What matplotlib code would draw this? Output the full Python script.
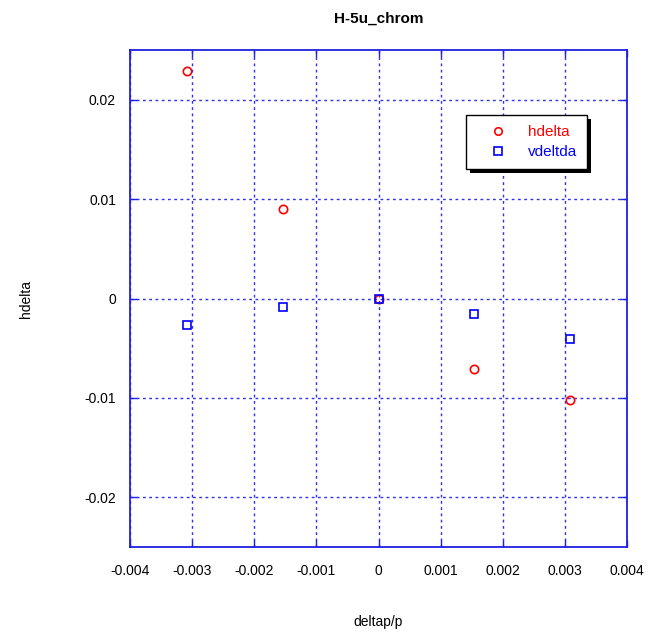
import matplotlib
matplotlib.use("Agg")
import matplotlib.pyplot as plt
import matplotlib.patheffects as pe

plt.rcParams['font.family'] = ['Liberation Sans', 'DejaVu Sans']

deltap = [-0.00308, -0.00154, 0.0, 0.00154, 0.00308]
hdelta = [0.0229, 0.00905, 0.0, -0.00714, -0.01025]
vdeltda = [-0.00271, -0.0009, 0.0, -0.0016, -0.0041]
xticks = [-0.004, -0.003, -0.002, -0.001, 0, 0.001, 0.002, 0.003, 0.004]
xticklabels = ['-0.004', '-0.003', '-0.002', '-0.001', '0', '0.001', '0.002', '0.003', '0.004']
yticks = [-0.02, -0.01, 0, 0.01, 0.02]
yticklabels = ['-0.02', '-0.01', '0', '0.01', '0.02']

fig = plt.figure(figsize=(6.48, 6.36), dpi=100)
ax = fig.add_axes([130/648, 89/636, 497/648, 497/636])
blue = '#2020e0'

ax.plot(deltap, hdelta, 'o', ms=6, mfc='none', mec='red', mew=1.2, label='hdelta', zorder=3)
ax.plot(deltap, vdeltda, 's', ms=6, mfc='none', mec='blue', mew=1.2, label='vdeltda', zorder=3)

ax.set_xlim(-0.004, 0.004)
ax.set_ylim(-0.025, 0.025)
ax.set_xticks(xticks)
ax.set_xticklabels(xticklabels)
ax.set_yticks(yticks)
ax.set_yticklabels(yticklabels)
ax.grid(True, color='#3030f0', linestyle=(0, (2, 2.5)), linewidth=1.0)
for s in ax.spines.values():
    s.set_color(blue)
    s.set_linewidth(1.3)
ax.tick_params(direction='in', length=5, color=blue, width=1.0, labelsize=10, pad=12,
               top=True, right=True)
ax.tick_params(axis='y', pad=10)

ax.set_title('H-5u_chrom', fontsize=11, fontweight='bold', pad=20)
ax.set_xlabel('deltap/p', fontsize=10, labelpad=27)
ax.set_ylabel('hdelta', fontsize=10, labelpad=37)

leg = ax.legend(loc='upper left', bbox_to_anchor=((466-130)/497, (547-115)/497), fontsize=11,
                frameon=True, fancybox=False, shadow=False, handletextpad=0.5,
                borderpad=0.65, borderaxespad=0, labelspacing=0.4, handlelength=2.9,
                markerscale=0.9, framealpha=1.0)
fr = leg.get_frame()
fr.set_facecolor('white')
fr.set_edgecolor('black')
fr.set_linewidth(1.0)
fr.set_path_effects([pe.SimplePatchShadow(offset=(3, -3), shadow_rgbFace='black', alpha=1.0), pe.Normal()])
leg.texts[0].set_color('red')
leg.texts[1].set_color('blue')

fig.savefig('out.png', dpi=100)
